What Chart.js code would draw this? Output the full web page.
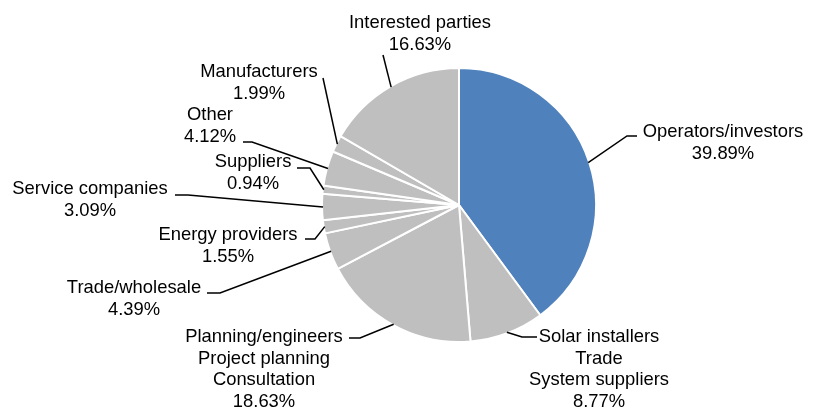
<!DOCTYPE html>
<html>
<head>
<meta charset="utf-8">
<script src="https://cdn.jsdelivr.net/npm/chart.js@4/dist/chart.umd.min.js"></script>
<style>
  html, body { margin: 0; padding: 0; background: #fff; }
  #wrap { width: 822px; height: 409px; position: relative; }
</style>
</head>
<body>
<div id="wrap"><canvas id="pie"></canvas></div>
<script>
// Daten
const categories = [
  ['Operators/investors'],
  ['Solar installers', 'Trade', 'System suppliers'],
  ['Planning/engineers', 'Project planning', 'Consultation'],
  ['Trade/wholesale'],
  ['Energy providers'],
  ['Service companies'],
  ['Suppliers'],
  ['Other'],
  ['Manufacturers'],
  ['Interested parties']
];
const shares = [39.89, 8.77, 18.63, 4.39, 1.55, 3.09, 0.94, 4.12, 1.99, 16.63];
const sliceColors = ['#4F81BD', '#BFBFBF', '#BFBFBF', '#BFBFBF', '#BFBFBF',
                     '#BFBFBF', '#BFBFBF', '#BFBFBF', '#BFBFBF', '#BFBFBF'];

// Label-Layout (Textmitte erste Zeile, Knick, Ende der Waagrechten)
const labelX = [723, 599, 264, 134, 228, 90, 253, 210, 259, 420];
const labelY = [132, 337, 337, 288, 235, 189, 162, 115, 72, 23];
const elbowX = [627, 522, 360, 220, 315, 188, 310, 252, 323, 383];
const elbowY = [136, 337, 338, 293, 239, 195, 168, 142, 78, 55];
const hEndX  = [637, 537, 349, 207, 305, 175, 297, 243, 323, 383];

const FONT = '18.4px "Liberation Sans", Arial, sans-serif';
const LINE_H = 21.6;

const leaderLabels = {
  id: 'leaderLabels',
  afterDatasetsDraw(chart) {
    const ctx = chart.ctx;
    const meta = chart.getDatasetMeta(0);
    ctx.save();
    ctx.strokeStyle = '#000';
    ctx.lineWidth = 1.5;
    ctx.fillStyle = '#000';
    ctx.font = FONT;
    ctx.textAlign = 'center';
    ctx.textBaseline = 'middle';

    meta.data.forEach((arc, i) => {
      const p = arc.getProps(['x', 'y', 'startAngle', 'endAngle', 'outerRadius'], true);
      const mid = (p.startAngle + p.endAngle) / 2;
      const sx = p.x + Math.cos(mid) * (p.outerRadius - 1);
      const sy = p.y + Math.sin(mid) * (p.outerRadius - 1);

      ctx.beginPath();
      ctx.moveTo(sx, sy);
      ctx.lineTo(elbowX[i], elbowY[i]);
      ctx.lineTo(hEndX[i], elbowY[i]);
      ctx.stroke();

      const lines = categories[i].concat([shares[i].toFixed(2) + '%']);
      lines.forEach((t, k) => ctx.fillText(t, labelX[i], labelY[i] + k * LINE_H));
    });
    ctx.restore();
  }
};

new Chart(document.getElementById('pie'), {
  type: 'pie',
  data: {
    labels: categories,
    datasets: [{
      data: shares,
      backgroundColor: sliceColors,
      borderColor: '#fff',
      borderWidth: 2
    }]
  },
  options: {
    responsive: true,
    maintainAspectRatio: false,
    animation: false,
    layout: { padding: { left: 321, right: 225, top: 67, bottom: 66 } },
    plugins: {
      legend: { display: false },
      tooltip: { enabled: false }
    }
  },
  plugins: [leaderLabels]
});
</script>
</body>
</html>
